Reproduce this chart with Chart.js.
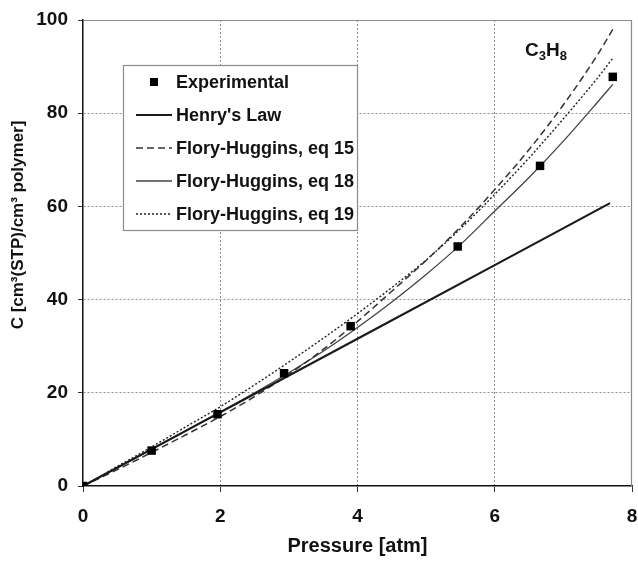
<!DOCTYPE html>
<html>
<head>
<meta charset="utf-8">
<script src="https://cdn.jsdelivr.net/npm/chart.js@4.4.1/dist/chart.umd.min.js"></script>
<style>
  html, body { margin: 0; padding: 0; background: #fff; }
  #wrap { width: 638px; height: 564px; }
</style>
</head>
<body>
<div id="wrap"><canvas id="c" width="638" height="564"></canvas></div>
<script>
// ---- data ----
const pressureExp = [0, 1.0, 1.96, 2.93, 3.9, 5.46, 6.66, 7.72];
const concExp     = [0, 7.6, 15.4, 24.2, 34.3, 51.4, 68.7, 87.8];

const pressureHenry = [0, 2, 4, 6, 7.68];
const concHenry     = [0, 15.8, 31.6, 47.4, 60.7];

const pressureFH = [0, 0.5, 1, 1.5, 2, 2.5, 3, 3.5, 4, 4.5, 5, 5.5, 6, 6.5, 7, 7.5, 7.72];
const concEq15   = [0, 3.5, 7.2, 11.0, 14.9, 19.2, 24.0, 29.3, 35.3, 41.8, 48.4, 55.6, 63.6, 72.2, 81.8, 92.6, 98.0];
const concEq18   = [0, 3.9, 7.9, 11.9, 15.9, 20.0, 24.3, 28.9, 34.0, 39.5, 45.4, 51.8, 59.0, 66.2, 74.0, 82.4, 86.2];
const concEq19   = [0, 4.2, 8.4, 12.7, 17.0, 21.7, 26.6, 31.7, 37.0, 42.6, 48.5, 55.2, 62.6, 70.4, 78.8, 87.6, 91.8];

const xTicks = [0, 2, 4, 6, 8];
const yTicks = [0, 20, 40, 60, 80, 100];

const seriesLabels = ['Experimental', "Henry's Law", 'Flory-Huggins, eq 15', 'Flory-Huggins, eq 18', 'Flory-Huggins, eq 19'];
const xTitle = 'Pressure [atm]';
const yTitle = 'C [cm\u00B3(STP)/cm\u00B3 polymer]';

const FONT = '"Liberation Sans", Arial, Helvetica, sans-serif';

function pts(xs, ys) { return xs.map((x, i) => ({ x: x, y: ys[i] })); }

// ---- plugins ----
const framePlugin = {
  id: 'frame',
  beforeDatasetsDraw(chart) {
    const a = chart.chartArea, ctx = chart.ctx;
    ctx.save();
    ctx.strokeStyle = '#8a8a8a';
    ctx.lineWidth = 1.2;
    ctx.beginPath();
    ctx.moveTo(a.left, a.top + 0.5);
    ctx.lineTo(a.right - 0.5, a.top + 0.5);
    ctx.lineTo(a.right - 0.5, a.bottom);
    ctx.stroke();
    ctx.restore();
  }
};

const yTitlePlugin = {
  id: 'yTitle',
  afterDraw(chart) {
    const ctx = chart.ctx;
    ctx.save();
    ctx.translate(18, 225);
    ctx.rotate(-Math.PI / 2);
    ctx.font = 'bold 17px ' + FONT;
    ctx.fillStyle = '#111';
    ctx.textAlign = 'center';
    ctx.textBaseline = 'middle';
    ctx.fillText(yTitle, 0, 0);
    ctx.restore();
  }
};

const legendPlugin = {
  id: 'boxLegend',
  afterDatasetsDraw(chart) {
    const ctx = chart.ctx;
    const left = 123, top = 65, rowH = 33, firstY = 82;
    const sampleX0 = 136, sampleX1 = 172, textX = 176;
    ctx.save();
    ctx.font = 'bold 18px ' + FONT;
    let maxW = 0;
    chart.data.datasets.forEach(ds => { maxW = Math.max(maxW, ctx.measureText(ds.label).width); });
    const right = textX + maxW + 3;
    const bottom = firstY + rowH * (chart.data.datasets.length - 1) + 16;
    ctx.fillStyle = '#fff';
    ctx.fillRect(left, top, right - left, bottom - top);
    ctx.strokeStyle = '#8a8a8a';
    ctx.lineWidth = 1.2;
    ctx.strokeRect(left + 0.5, top + 0.5, right - left, bottom - top);
    chart.data.datasets.forEach((ds, i) => {
      const y = firstY + i * rowH;
      if (ds.showLine === false) {
        ctx.fillStyle = ds.pointBackgroundColor;
        ctx.fillRect(150, y - 4, 8, 8);
      } else {
        ctx.strokeStyle = ds.borderColor;
        ctx.lineWidth = ds.borderWidth;
        ctx.setLineDash(ds.borderDash || []);
        ctx.beginPath();
        ctx.moveTo(sampleX0, y);
        ctx.lineTo(sampleX1, y);
        ctx.stroke();
        ctx.setLineDash([]);
      }
      ctx.fillStyle = '#111';
      ctx.textBaseline = 'middle';
      ctx.textAlign = 'left';
      ctx.fillText(ds.label, textX, y + 1);
    });
    // gas label C3H8
    ctx.fillStyle = '#111';
    ctx.textBaseline = 'alphabetic';
    let x = 525;
    const base = 56;
    ctx.font = 'bold 19px ' + FONT;
    ctx.fillText('C', x, base); x += ctx.measureText('C').width;
    ctx.font = 'bold 13px ' + FONT;
    ctx.fillText('3', x, base + 4); x += ctx.measureText('3').width;
    ctx.font = 'bold 19px ' + FONT;
    ctx.fillText('H', x, base); x += ctx.measureText('H').width;
    ctx.font = 'bold 13px ' + FONT;
    ctx.fillText('8', x, base + 4);
    ctx.restore();
  }
};

const gridColor = (ctx, maxV) => {
  const v = ctx.tick ? ctx.tick.value : null;
  if (v === 0 || v === maxV) return 'rgba(0,0,0,0)';
  return '#8f8f8f';
};

new Chart(document.getElementById('c'), {
  type: 'scatter',
  data: {
    datasets: [
      {
        label: seriesLabels[0],
        data: pts(pressureExp, concExp),
        showLine: false,
        pointStyle: 'rect',
        pointRadius: 6,
        pointBackgroundColor: '#000',
        pointBorderColor: '#000',
        pointBorderWidth: 0,
        order: 0
      },
      {
        label: seriesLabels[1],
        data: pts(pressureHenry, concHenry),
        showLine: true,
        borderColor: '#1a1a1a',
        borderWidth: 2.2,
        pointRadius: 0,
        order: 1
      },
      {
        label: seriesLabels[2],
        data: pts(pressureFH, concEq15),
        showLine: true,
        borderColor: '#333',
        borderWidth: 1.5,
        borderDash: [7, 4],
        cubicInterpolationMode: 'monotone',
        pointRadius: 0,
        order: 2
      },
      {
        label: seriesLabels[3],
        data: pts(pressureFH, concEq18),
        showLine: true,
        borderColor: '#444',
        borderWidth: 1.3,
        cubicInterpolationMode: 'monotone',
        pointRadius: 0,
        order: 3
      },
      {
        label: seriesLabels[4],
        data: pts(pressureFH, concEq19),
        showLine: true,
        borderColor: '#222',
        borderWidth: 1.4,
        borderDash: [2, 2],
        cubicInterpolationMode: 'monotone',
        pointRadius: 0,
        order: 4
      }
    ]
  },
  options: {
    responsive: false,
    animation: false,
    layout: { padding: { top: 20, right: 5, left: 0, bottom: 0 } },
    plugins: {
      legend: { display: false },
      tooltip: { enabled: false }
    },
    scales: {
      x: {
        type: 'linear',
        min: xTicks[0],
        max: xTicks[xTicks.length - 1],
        afterBuildTicks(axis) { axis.ticks = xTicks.map(v => ({ value: v })); },
        afterFit(axis) { axis.height = 78; axis.paddingRight = 0; axis.paddingLeft = 0; },
        border: { display: true, color: '#111', width: 1.5, dash: [2, 2] },
        grid: {
          color: (c) => gridColor(c, 8),
          lineWidth: 1,
          tickLength: 6,
          tickColor: '#333',
          tickBorderDash: [],
          drawTicks: true
        },
        ticks: {
          color: '#111',
          padding: 13,
          font: { family: FONT, size: 19, weight: 'bold' },
          callback: (v) => String(v)
        },
        title: {
          display: true,
          text: xTitle,
          color: '#111',
          font: { family: FONT, size: 20, weight: 'bold' },
          padding: { top: 0, bottom: 6 }
        }
      },
      y: {
        type: 'linear',
        min: yTicks[0],
        max: yTicks[yTicks.length - 1],
        afterBuildTicks(axis) { axis.ticks = yTicks.map(v => ({ value: v })); },
        afterFit(axis) { axis.width = 83; axis.paddingTop = 0; axis.paddingBottom = 0; },
        border: { display: true, color: '#111', width: 1.5, dash: [2, 2] },
        grid: {
          color: (c) => gridColor(c, 100),
          lineWidth: 1,
          tickLength: 5,
          tickColor: '#333',
          tickBorderDash: [],
          drawTicks: true
        },
        ticks: {
          color: '#111',
          padding: 10,
          font: { family: FONT, size: 19, weight: 'bold' },
          callback: (v) => String(v)
        },
        title: { display: false }
      }
    }
  },
  plugins: [framePlugin, legendPlugin, yTitlePlugin]
});
</script>
</body>
</html>
